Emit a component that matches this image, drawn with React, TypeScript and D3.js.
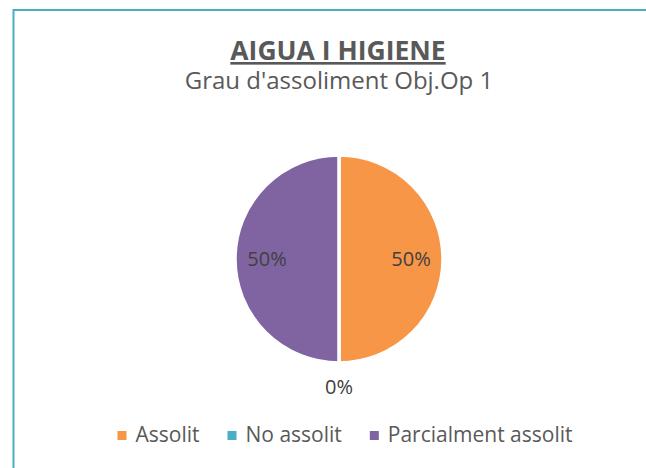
import React, { useEffect, useRef } from 'react';
import * as d3 from 'd3';

const categories = ['Assolit', 'No assolit', 'Parcialment assolit'];
const values = [50, 0, 50];
const colors = ['#F79646', '#4BACC6', '#8064A2'];
const chartTitle = 'AIGUA I HIGIENE';
const chartSubtitle = "Grau d'assoliment Obj.Op 1";

const App: React.FC = () => {
    const svgRef = useRef<SVGSVGElement | null>(null);

    useEffect(() => {
        const width = 646;
        const height = 468;
        const font = "'Open Sans', 'Noto Sans', sans-serif";
        const textColor = '#595959';

        const svg = d3.select(svgRef.current);
        svg.selectAll('*').remove();
        svg.attr('width', width).attr('height', height);

        // chart area frame (only top and left edges are visible)
        svg.append('path')
            .attr('d', `M13.5,${height + 5} L13.5,10 L${width + 5},10`)
            .attr('fill', 'none')
            .attr('stroke', '#4BACC6')
            .attr('stroke-width', 2);

        // titles
        svg.append('text')
            .attr('x', 338)
            .attr('y', 60)
            .attr('text-anchor', 'middle')
            .attr('font-family', font)
            .attr('font-size', 26.5)
            .attr('font-weight', 'bold')
            .attr('text-decoration', 'underline')
            .attr('fill', textColor)
            .text(chartTitle);

        svg.append('text')
            .attr('x', 339)
            .attr('y', 89)
            .attr('text-anchor', 'middle')
            .attr('font-family', font)
            .attr('font-size', 24)
            .attr('fill', textColor)
            .text(chartSubtitle);

        // pie
        const cx = 339;
        const cy = 259;
        const radius = 104;

        const pie = d3.pie<number>().sort(null).value(d => d);
        const arcs = pie(values);
        const arc = d3.arc<d3.PieArcDatum<number>>().innerRadius(0).outerRadius(radius);
        const labelArc = d3.arc<d3.PieArcDatum<number>>().innerRadius(72).outerRadius(72);
        const outsideArc = d3.arc<d3.PieArcDatum<number>>().innerRadius(128).outerRadius(128);

        const g = svg.append('g').attr('transform', `translate(${cx},${cy})`);

        g.selectAll('.slice')
            .data(arcs)
            .enter()
            .append('path')
            .attr('class', 'slice')
            .attr('d', arc)
            .attr('fill', (_, i) => colors[i])
            .attr('stroke', '#ffffff')
            .attr('stroke-width', (d) => (d.value > 0 ? 3.5 : 0));

        const total = d3.sum(values);
        g.selectAll('.pct')
            .data(arcs)
            .enter()
            .append('text')
            .attr('class', 'pct')
            .attr('transform', d => {
                const [x, y] = d.value > 0 ? labelArc.centroid(d) : outsideArc.centroid(d);
                return `translate(${x},${y})`;
            })
            .attr('dy', 7)
            .attr('text-anchor', 'middle')
            .attr('font-family', font)
            .attr('font-size', 20)
            .attr('fill', '#404040')
            .text(d => `${Math.round((d.value / total) * 100)}%`);

        // legend, laid out from the measured text widths and centered
        const legend = svg.append('g');
        const items = legend.selectAll('.item')
            .data(categories)
            .enter()
            .append('g')
            .attr('class', 'item');

        items.append('rect')
            .attr('width', 9)
            .attr('height', 9)
            .attr('y', -11)
            .attr('fill', (_, i) => colors[i]);

        items.append('text')
            .attr('x', 18)
            .attr('font-family', font)
            .attr('font-size', 21)
            .attr('fill', textColor)
            .text(d => d);

        const gap = 28;
        let xPos = 0;
        items.each(function () {
            const node = this as SVGGElement;
            const tw = (d3.select(node).select('text').node() as SVGTextElement).getComputedTextLength();
            d3.select(node).attr('transform', `translate(${xPos},0)`);
            xPos += 18 + tw + gap;
        });
        const legendWidth = xPos - gap;
        legend.attr('transform', `translate(${345 - legendWidth / 2},442)`);
    }, []);

    return (
        <svg ref={svgRef} style={{ position: 'absolute', left: 0, top: 0, display: 'block' }} />
    );
};

export default App;
